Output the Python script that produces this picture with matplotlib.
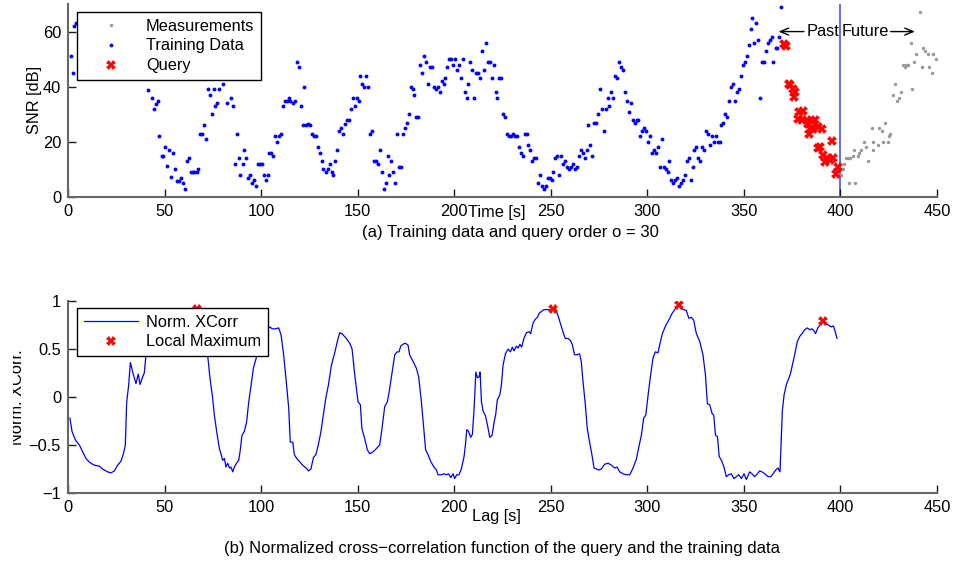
import matplotlib
matplotlib.use("Agg")
import matplotlib.pyplot as plt
from matplotlib.patches import Rectangle

plt.rcParams['font.family'] = ['Liberation Sans', 'DejaVu Sans']
FS = 11.8
FSC = 12.0

# ---------------- data (a) ----------------
train_t = [1.4, 2.4, 3.1, 4.1, 6, 8, 10, 12, 14, 16, 18, 20, 22, 24, 26, 28, 30, 32, 34, 36, 38,
           41.3, 43.3, 44.5, 45.4, 46.4, 47.3, 48.5, 49.3, 50.4, 51.4, 52.5, 53.5, 54.5, 55.4, 56.3, 57.3,
           58.4, 59.4, 60.4, 61.5, 62.5, 63.5, 64.5, 65.5, 66.6, 67.5, 68.4, 69.2, 70.2, 71.3, 72.3, 73.4,
           74.4, 75.5, 76.3, 77.3, 78.4, 80.1, 82.5, 84.2, 85.3, 86.5, 87.4, 88.4, 89.2, 90.5, 91.3, 92.3,
           93.4, 94.4, 95.4, 96.5, 97.5, 98.5, 99.5, 100.6, 101.3, 102.4, 103.4, 104.3, 105.3, 106.3, 107.4,
           108.4, 109.4, 110.5, 111.2, 112.2, 113.2, 114.2, 115.2, 116.3, 117.3, 118.4, 119.4,
           120.5, 121.5, 122.4, 123.4, 124.5, 125.5, 126.4, 127.4, 128.4, 129.5, 130.5, 131.5, 132.3, 133.4,
           134.4, 135.5, 136.5, 137.4, 138.4, 139.5, 140.5, 141.4, 142.4, 143.5, 144.4, 145.4, 146.4, 147.4,
           148.5, 149.5, 150.5, 151.4, 152.4, 153.4, 154.5, 155.5, 156.4, 157.4, 158.5, 159.5, 160.4, 161.4,
           162.5, 163.5, 164.5, 165.6, 166.4, 167.4, 168.4, 169.3, 170.4, 171.4, 172.4, 173.5, 174.4, 175.4,
           176.4, 177.5, 178.5, 179.4, 180.4, 181.4, 182.4, 183.3, 184.4, 185.4, 186.3, 187.3, 188.3, 189.4,
           190.4, 191.5, 192.5, 193.5, 194.6, 195.4, 196.4, 197.5, 198.5, 199.5, 200.4, 201.4, 202.5, 203.4,
           204.4, 205.4, 206.5, 207.3, 208.3, 209.4, 210.4, 211.3, 212.3, 213.4, 214.4, 215.4, 216.5, 217.3,
           218.4, 219.4, 220.5, 221.5, 222.3, 223.4, 224.4, 225.4, 226.5, 227.5, 228.5, 229.5, 230.4, 231.4,
           232.4, 233.4, 234.4, 235.5, 236.5, 237.5, 238.4, 239.3,
           240.3, 241.3, 242.4, 243.4, 244.4, 245.5, 246.5, 247.5, 248.6, 249.6, 250.6, 251.3, 252.4, 253.4,
           254.4, 255.5, 256.5, 257.4, 258.4, 259.5, 260.5, 261.5, 262.6, 263.6, 264.5, 265.5, 266.5, 267.6,
           268.6, 269.4, 270.5, 271.5, 272.4, 273.4, 274.5, 275.5, 276.5, 277.4, 278.5, 279.5, 280.3, 281.3,
           282.4, 283.4, 284.5, 285.4, 286.4, 287.4, 288.5, 289.3, 290.4, 291.4, 292.4, 293.4, 294.4, 295.3,
           296.4, 297.3, 298.3, 299.3, 300.4, 301.4, 302.4, 303.5, 304.3, 305.4, 306.4, 307.4, 308.5, 309.5,
           310.6, 311.4, 312.4, 313.5, 314.5, 315.4, 316.4, 317.5, 318.3, 319.4, 320.4, 321.4, 322.5, 323.5,
           324.3, 325.4, 326.4, 327.5, 328.3, 329.4, 330.4, 331.3, 332.3, 333.4, 334.4, 335.4, 336.5, 337.5,
           338.3, 339.4, 340.4, 341.4, 342.3, 343.4, 344.4, 345.4, 346.5, 347.3, 348.4, 349.4, 350.4, 351.5,
           352.5, 353.5, 354.4, 355.4, 356.4, 357.3,
           358.3, 359.4, 360.4, 361.3, 362.3, 363.5, 364.4, 365.3, 366.7, 367.3, 368.4, 369.4]
train_v = [51, 45, 62, 63, 60, 58, 62, 55, 57, 52, 55, 50, 53, 48, 43, 47, 50, 46, 49, 45, 47,
           38.9, 36, 32, 33.9, 35, 22, 15, 15, 18.2, 11.1, 17, 7.1, 16, 10, 5.9, 5.9,
           7, 4.9, 3, 13, 14, 9, 9, 9, 9, 10, 23, 23, 26, 21, 39, 37,
           30, 39, 33, 34, 39, 41, 34, 36, 33, 12, 23, 14, 8, 12, 17, 14,
           7, 8, 5, 6, 4, 12, 12, 12, 8, 6, 8, 16, 16, 15, 22,
           20, 22, 23, 33, 35, 35, 36, 35, 34, 35, 49, 47,
           33, 26, 40, 26, 26.6, 26, 23, 22, 22, 18, 16, 13, 10, 9,
           10, 12, 9, 8, 13, 17, 24, 25, 23, 26.6, 28, 28, 32, 36,
           33, 36, 35, 44, 41, 40, 44, 40, 23, 24, 13, 13, 12, 17,
           9, 3, 5, 15, 8, 13, 9, 5, 23, 11, 11, 23, 25, 27,
           30, 40, 39, 37, 29, 29, 48, 45, 51, 49, 41, 47, 47, 40,
           39, 40, 38, 42, 41, 43, 47, 50, 50, 48, 50, 46, 48, 43,
           50, 38, 36, 41, 49, 46, 36, 45, 45, 43, 53, 46, 56, 49,
           49, 43, 48, 38, 36, 43, 43, 30, 29, 23, 22, 22, 23, 22,
           22, 18, 16, 15, 23, 23, 19, 17,
           13, 14, 14, 5, 8, 4, 3, 4, 7, 7, 6, 9, 14, 15,
           8, 15, 12, 13, 11, 10, 11, 12, 10, 11, 15, 17, 16, 14,
           17, 26, 19, 15, 27, 27, 30, 39, 32, 24, 32, 36, 33, 38,
           36, 44, 43, 49, 47, 46, 38, 35, 31, 34, 28, 27, 28, 28,
           22, 24, 25, 24, 20, 22, 16, 17, 16, 18, 11, 21, 11, 10,
           9, 13, 6, 5, 6, 7, 4, 5, 6, 8, 13, 14, 6, 11,
           17, 18, 14, 13, 18, 17, 24, 23, 19, 22, 20, 22, 20, 20,
           26, 27, 30, 29, 35, 40, 41, 35, 38, 39, 44, 48, 49, 51,
           55, 61, 65, 56, 63, 57,
           36, 49, 49, 53, 56, 57, 58, 49, 54, 54, 58, 69]

query_t = [371, 372, 373.4, 374, 375.6, 376.1, 376.5, 378.2, 378.7, 379.9, 380.5, 382.5, 383.4, 383.6,
           384.3, 385.1, 385.9, 386.8, 388.2, 388.6, 389.4, 390.3, 391.1, 392, 392.9, 394.6, 395.5,
           396.3, 397.6, 398.6]
query_v = [55.5, 54.6, 41, 40.5, 39.3, 36.2, 38, 28.4, 30.8, 27.8, 31.3, 27.8, 26.6, 23,
           24.8, 27.6, 24.8, 27.8, 25.4, 17.6, 18.2, 24.8, 15.2, 12.8, 14, 13.4, 20.3,
           14.3, 8.3, 11]

meas_t = [399.8, 400.3, 401.2, 401.9, 402.9, 403.8, 404.2, 405, 406.4, 407.2, 407.3, 409, 409.8, 410.6,
          412.2, 413.2, 414.1, 416.3, 416.7, 417, 419.3, 420.2, 421.4, 422.2, 423.1, 424.4, 424.9,
          425.7, 427.4, 428.3, 429.4, 430.3, 431.2, 432.2, 433.4, 434.2, 435.1, 436.4, 437.2, 438.3,
          439.3, 441.2, 442.1, 442.9, 443.8, 445.2, 446.1, 447.3, 448.1, 449.3]
meas_v = [9.8, 8, 10, 12, 14, 14, 5, 14, 15, 17, 5, 15, 16, 17,
          20, 18, 13, 25, 17, 20, 19, 25, 24, 20, 27, 20, 22,
          23, 37, 41, 35, 36, 38, 48, 47, 48, 48, 56, 39, 49,
          52, 67, 47, 54, 53, 52, 47, 45, 52, 50]

# ---------------- data (b) ----------------
lag = [1.0, 2.1, 3.9, 5.9, 7.6, 9.3, 11.1, 13.6, 16.2, 17.9, 20.5, 22.3, 24.0, 25.7, 27.4, 28.7, 29.7,
       30.4, 31.4, 32.3, 33.5, 35.2, 36.4, 37.3, 38.7, 39.5, 40.4, 42, 44, 46, 48, 50, 52, 54, 56, 58,
       60, 62, 64, 66.6, 68, 70, 72.3, 73.5, 74.9, 75.8, 77.0, 78.4, 79.2, 80.1, 81.0, 81.8, 82.7, 83.6,
       84.4, 85.3, 86.1, 87.3, 88.4, 89.1, 90.1, 91.3, 92.5, 93.6, 94.8, 96.0, 97.4, 98.2, 99.1, 100.8,
       102.2, 103.4, 104.6, 105.7, 107.4, 109.1, 110.3, 111.5, 112.9, 114.3, 115.1, 116.4, 117.2, 118.4,
       119.8, 121.5, 123.3, 124.6, 125.8, 127.1, 128.4, 129.6, 131.0, 132.2, 133.6, 134.8, 136.4, 138.1,
       139.5, 140.7, 141.9, 144.1, 145.9, 147.1, 148.5, 150.2, 151.4, 152.2, 153.6, 155.0, 156.2, 157.4,
       159.1, 161.4, 162.6, 164.0, 165.4, 166.6, 167.8, 169.2, 170.4, 171.4, 172.3, 173.5, 174.7, 176.1,
       176.9, 178.7, 180.4, 181.6, 183.0, 184.2, 185.2, 186.4, 187.8, 189.5, 190.8, 191.6, 193.4, 194.7,
       195.9, 197.1, 198.2, 199.4, 200.2, 201.3, 202.5, 203.7, 205.1, 205.8, 206.5, 207.5, 208.5, 209.4,
       210.3, 211.2, 212.0, 212.9, 213.4, 214.1, 215.0, 216.1, 217.2, 218.4, 219.6, 220.6, 221.5, 222.3,
       223.6, 224.4, 225.3, 226.5, 227.9, 229.1, 230.1, 231.0, 232.2, 233.1, 234.0, 234.9, 236.1, 237.4,
       238.8, 239.6, 240.8, 242.0, 243.1, 243.9, 245.1, 246.5, 247.7, 248.9, 250.3, 251.3, 252.5, 253.7,
       254.9, 256.3, 257.5, 258.9, 260.1, 261.1, 262.3, 263.7, 264.9, 265.8, 266.7, 267.9, 268.9, 270.1,
       271.3, 272.4, 273.6, 274.8, 276.2, 277.9, 279.7, 281.4, 283.1, 284.3, 285.7, 287.4, 289.1, 290.9,
       292.6, 294.3, 295.5, 296.9, 298.1, 299.2, 300.4, 301.7, 302.9, 304.1, 305.5, 306.6, 307.8, 309.0,
       310.2, 311.6, 312.8, 314.2, 316.3, 317.6, 319.0, 320.2, 321.5, 322.8, 324.0, 325.4, 327.1, 328.8,
       330.1, 331.1, 332.3, 333.5, 334.4, 335.3, 336.3, 337.2, 338.4, 339.7, 340.9, 342.1, 343.5, 344.9,
       346.1, 347.3, 348.7, 350.1, 351.3, 353.0, 354.2, 355.6, 357.0, 358.2, 359.4, 360.8, 362.5, 363.9,
       365.1, 366.5, 367.7, 368.7, 369.4, 369.9, 370.8, 372.0, 373.2, 374.2, 375.1, 376.3, 377.7, 378.9,
       380.1, 381.5, 382.8, 384.2, 385.2, 386.3, 387.1, 388.3, 389.7, 391.1, 392.6, 393.8, 395.2, 396.4,
       397.3, 398.2]
xcorr = [-0.22, -0.36, -0.45, -0.50, -0.57, -0.64, -0.68, -0.71, -0.72, -0.75, -0.78, -0.79, -0.77, -0.71,
         -0.67, -0.59, -0.50, -0.05, 0.12, 0.36, 0.26, 0.14, 0.24, 0.13, 0.21, 0.25, 0.44, 0.55, 0.62,
         0.68, 0.72, 0.75, 0.78, 0.80, 0.82, 0.84, 0.86, 0.88, 0.90, 0.92, 0.88, 0.70, 0.44, 0.20, -0.01,
         -0.19, -0.36, -0.54, -0.59, -0.66, -0.64, -0.73, -0.69, -0.74, -0.73, -0.78, -0.73, -0.69, -0.66,
         -0.57, -0.40, -0.36, -0.26, -0.05, 0.12, 0.30, 0.40, 0.49, 0.58, 0.70, 0.72, 0.71, 0.73, 0.71,
         0.71, 0.72, 0.65, 0.47, 0.19, -0.12, -0.47, -0.47, -0.60, -0.64, -0.67, -0.71, -0.74, -0.77,
         -0.75, -0.63, -0.60, -0.50, -0.36, -0.19, 0.00, 0.12, 0.33, 0.46, 0.58, 0.67, 0.66, 0.61, 0.56,
         0.50, 0.23, -0.05, -0.08, -0.33, -0.43, -0.55, -0.59, -0.58, -0.55, -0.50, -0.33, -0.10, -0.05,
         0.09, 0.25, 0.44, 0.47, 0.47, 0.53, 0.55, 0.56, 0.54, 0.44, 0.37, 0.30, 0.21, -0.05, -0.33,
         -0.55, -0.60, -0.67, -0.73, -0.76, -0.81, -0.81, -0.80, -0.81, -0.80, -0.84, -0.80, -0.85, -0.81,
         -0.81, -0.75, -0.62, -0.50, -0.34, -0.36, -0.42, -0.39, -0.12, 0.26, 0.20, 0.21, 0.26, -0.05,
         -0.15, -0.19, -0.29, -0.42, -0.40, -0.27, -0.18, -0.03, 0.02, 0.12, 0.33, 0.45, 0.50, 0.47, 0.52,
         0.48, 0.53, 0.51, 0.55, 0.52, 0.61, 0.67, 0.68, 0.66, 0.77, 0.81, 0.83, 0.87, 0.89, 0.91, 0.91,
         0.91, 0.91, 0.92, 0.92, 0.85, 0.77, 0.68, 0.61, 0.61, 0.59, 0.55, 0.44, 0.44, 0.45, 0.37, 0.16,
         -0.08, -0.33, -0.47, -0.60, -0.74, -0.75, -0.76, -0.75, -0.70, -0.69, -0.71, -0.74, -0.73, -0.78,
         -0.80, -0.81, -0.81, -0.74, -0.65, -0.53, -0.40, -0.22, -0.19, 0.02, 0.23, 0.40, 0.47, 0.46, 0.56,
         0.66, 0.72, 0.77, 0.82, 0.87, 0.91, 0.958, 0.92, 0.91, 0.90, 0.82, 0.83, 0.80, 0.66, 0.58, 0.44,
         0.23, -0.07, -0.08, -0.17, -0.19, -0.40, -0.41, -0.62, -0.66, -0.73, -0.83, -0.81, -0.80, -0.85,
         -0.83, -0.81, -0.85, -0.80, -0.86, -0.78, -0.80, -0.83, -0.80, -0.77, -0.78, -0.80, -0.83, -0.83,
         -0.80, -0.76, -0.74, -0.78, -0.40, -0.15, 0.02, 0.13, 0.19, 0.25, 0.33, 0.44, 0.58, 0.63,
         0.66, 0.70, 0.72, 0.70, 0.71, 0.69, 0.66, 0.72, 0.76, 0.79, 0.76, 0.75, 0.73, 0.74,
         0.68, 0.61]

max_lag = [66.6, 251.3, 316.3, 391.1]
max_val = [0.92, 0.915, 0.958, 0.79]

# ---------------- figure ----------------
W, H = 955, 563
fig = plt.figure(figsize=(W / 100, H / 100), dpi=100)

def px_axes(x0, y0, x1, y1):
    return fig.add_axes([x0 / W, 1 - y1 / H, (x1 - x0) / W, (y1 - y0) / H])

ax1 = px_axes(68, 4, 937, 197)
ax2 = px_axes(68, 301, 937, 493)

def style(ax):
    for s in ['top', 'right']:
        ax.spines[s].set_visible(False)
    for s in ['left', 'bottom']:
        ax.spines[s].set_color('0.4')
        ax.spines[s].set_linewidth(1.5)
    ax.tick_params(direction='in', length=6, width=1.0, color='0.1',
                   labelsize=FS, pad=5)

leg_kw = dict(loc='upper left', borderaxespad=0, fontsize=FS, frameon=True, fancybox=False,
              framealpha=1, edgecolor='black', borderpad=0.4, handlelength=3.35,
              handletextpad=0.45, labelspacing=0.3)

# (a)
ax1.plot(meas_t, meas_v, 'o', color='#999999', ms=2.5, mew=0, label='Measurements')
ax1.plot(train_t, train_v, 'o', color='#0000ff', ms=2.8, mew=0, label='Training Data')
ax1.plot(query_t, query_v, 'X', color='#ff0000', ms=6.5, mew=0, label='Query')
ax1.axvline(400, color='#5a5aff', lw=1.3, zorder=1)
ax1.set_xlim(0, 450)
ax1.set_ylim(0, 70)
ax1.set_xticks(range(0, 451, 50))
ax1.set_yticks([0, 20, 40, 60])
style(ax1)
ax1.text(399.3, 60, 'Past', ha='right', va='center', fontsize=FS)
ax1.text(400.7, 60, 'Future', ha='left', va='center', fontsize=FS)
ax1.annotate('', xy=(366.5, 60), xytext=(382.5, 60),
             arrowprops=dict(arrowstyle='->,head_length=0.6,head_width=0.25', color='black', lw=1))
ax1.annotate('', xy=(440, 60), xytext=(424.5, 60),
             arrowprops=dict(arrowstyle='->,head_length=0.6,head_width=0.25', color='black', lw=1))
leg1 = ax1.legend(bbox_to_anchor=(9 / 869, 1 - 8 / 193), **leg_kw)
leg1.get_frame().set_linewidth(1.0)

fig.text(35 / W, 1 - 100 / H, 'SNR [dB]', rotation=90, ha='center', va='center', fontsize=FS)
fig.text(497 / W, 1 - 213 / H, 'Time [s]', ha='center', va='center', fontsize=FS)
fig.text(510 / W, 1 - 232 / H, '(a) Training data and query order o = 30', ha='center', va='center',
         fontsize=FSC)

# (b)
ax2.plot(lag, xcorr, '-', color='#0000ff', lw=0.9, label='Norm. XCorr')
ax2.plot(max_lag, max_val, 'X', color='#ff0000', ms=6.5, mew=0, label='Local Maximum', zorder=3)
ax2.set_xlim(0, 450)
ax2.set_ylim(-1, 1)
ax2.set_xticks(range(0, 451, 50))
ax2.set_yticks([-1, -0.5, 0, 0.5, 1])
ax2.set_yticklabels(['\u22121', '\u22120.5', '0', '0.5', '1'])
style(ax2)
leg2 = ax2.legend(bbox_to_anchor=(9 / 869, 1 - 7 / 192), **leg_kw)
leg2.get_frame().set_linewidth(1.0)

fig.text(18 / W, 1 - 397 / H, 'Norm. XCorr.', rotation=90, ha='center', va='center', fontsize=FS)
fig.add_artist(Rectangle((0, 1 - 470 / H), 13 / W, 160 / H, transform=fig.transFigure,
                         facecolor='white', edgecolor='none', zorder=10))

fig.text(496 / W, 1 - 517 / H, 'Lag [s]', ha='center', va='center', fontsize=FS)
fig.text(502 / W, 1 - 549 / H,
         '(b) Normalized cross\u2212correlation function of the query and the training data',
         ha='center', va='center', fontsize=FSC)

fig.savefig('out.png', dpi=100)
